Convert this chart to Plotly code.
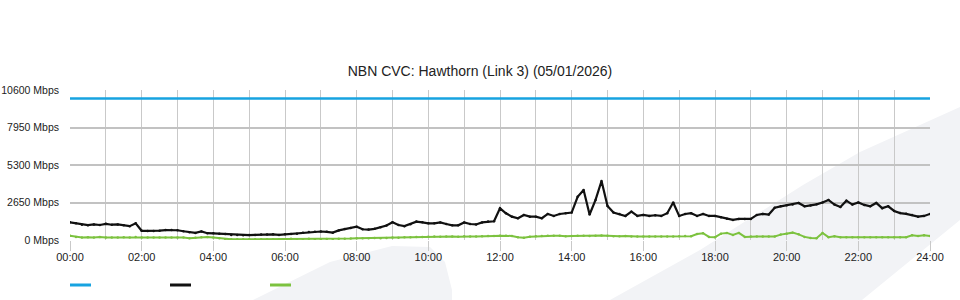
import plotly.graph_objects as go

# ---------------- data ----------------
title_text = "NBN CVC: Hawthorn (Link 3) (05/01/2026)"
step_minutes = 10
n_points = 145
times_h = [i * step_minutes / 60 for i in range(n_points)]

x_tick_vals = [0, 2, 4, 6, 8, 10, 12, 14, 16, 18, 20, 22, 24]
x_tick_text = ["00:00", "02:00", "04:00", "06:00", "08:00", "10:00", "12:00",
               "14:00", "16:00", "18:00", "20:00", "22:00", "24:00"]
y_tick_vals = [0, 2650, 5300, 7950, 10600]
y_tick_text = ["0 Mbps", "2650 Mbps", "5300 Mbps", "7950 Mbps", "10600 Mbps"]

capacity_mbps = 10000

traffic_black = [
    1250, 1180, 1080, 1050, 1100, 1060, 1140, 1080, 1100, 1050, 980, 1180,   # 00:00-01:50
    650, 640, 640, 660, 700, 700, 690, 620, 550, 500, 600, 480,              # 02:00-03:50
    470, 450, 420, 360, 350, 330, 350, 360, 380, 380, 400, 360,              # 04:00-05:50
    400, 420, 450, 520, 560, 580, 600, 580, 520, 680, 780, 850,              # 06:00-07:50
    940, 760, 740, 790, 900, 1020, 1250, 1060, 980, 1120, 1300, 1250,        # 08:00-09:50
    1180, 1180, 1240, 1130, 1040, 1040, 1240, 1130, 1100, 1240, 1300, 1320,  # 10:00-11:50
    2240, 1890, 1650, 1540, 1770, 1650, 1650, 1540, 1840, 1700, 1840, 1890,  # 12:00-13:50
    1940, 3050, 3540, 1800, 2830, 4170, 2400, 1940, 1840, 1700, 2000, 1700,  # 14:00-15:50
    1770, 1700, 1750, 1700, 1890, 2650, 1700, 1840, 1890, 1700, 1840, 1700,  # 16:00-17:50
    1700, 1600, 1500, 1420, 1490, 1490, 1490, 1770, 1840, 1800, 2280, 2380,  # 18:00-19:50
    2450, 2500, 2620, 2380, 2430, 2520, 2650, 2830, 2500, 2330, 2780, 2500,  # 20:00-21:50
    2650, 2480, 2380, 2620, 2250, 2380, 2050, 1900, 1850, 1770, 1650, 1700,  # 22:00-23:50
    1840,                                                                    # 24:00
]

traffic_green = [
    300, 220, 170, 200, 170, 220, 170, 180, 180, 190, 170, 220,   # 00:00-01:50
    170, 170, 170, 170, 180, 170, 170, 170, 130, 160, 200, 210,   # 02:00-03:50
    170, 120, 60, 50, 50, 50, 50, 50, 50, 50, 60, 50,             # 04:00-05:50
    50, 80, 60, 50, 80, 50, 50, 70, 60, 80, 90, 100,              # 06:00-07:50
    120, 130, 130, 140, 130, 150, 180, 160, 200, 190, 220, 210,   # 08:00-09:50
    230, 240, 230, 250, 240, 230, 260, 250, 240, 270, 280, 280,   # 10:00-11:50
    300, 300, 290, 200, 160, 230, 260, 280, 300, 300, 300, 260,   # 12:00-13:50
    290, 300, 300, 290, 300, 310, 300, 270, 260, 280, 240, 240,   # 14:00-15:50
    240, 240, 240, 250, 240, 240, 270, 280, 270, 420, 480, 220,   # 16:00-17:50
    200, 450, 500, 360, 500, 220, 250, 250, 240, 240, 250, 380,   # 18:00-19:50
    450, 520, 400, 220, 150, 130, 500, 200, 260, 200, 200, 200,   # 20:00-21:50
    200, 200, 200, 200, 200, 200, 200, 200, 200, 340, 280, 340,   # 22:00-23:50
    290,                                                          # 24:00
]

# ---------------- styling ----------------
W, H = 960, 300
M_L, M_R, M_T, M_B = 70, 30, 90, 60
BLUE = "#17a3e0"
BLACK = "#111111"
GREEN = "#7cc23f"
GRID = "#c9c9c9"
HGRID = "#c2c2c2"
WM = "rgb(242,243,246)"
TXT = "#222222"
FONT = "Liberation Sans, Arial, sans-serif"

pw = W - M_L - M_R
ph = H - M_T - M_B


def px(xp):
    return (xp - M_L) / pw


def py(yp):
    return (H - M_B - yp) / ph


fig = go.Figure()
fig.add_trace(go.Scatter(x=times_h, y=[capacity_mbps] * len(times_h), mode="lines",
                         line=dict(color=BLUE, width=2.5), showlegend=False, hoverinfo="skip"))
fig.add_trace(go.Scatter(x=times_h, y=traffic_green, mode="lines+markers",
                         line=dict(color=GREEN, width=2), marker=dict(size=2.5, color=GREEN),
                         showlegend=False))
fig.add_trace(go.Scatter(x=times_h, y=traffic_black, mode="lines+markers",
                         line=dict(color=BLACK, width=2.2), marker=dict(size=2.5, color=BLACK),
                         showlegend=False))

shapes = []
# background watermark (decoration)
blob = [(253, 300), (330, 262), (392, 246), (430, 247), (445, 262), (452, 290), (452, 300)]
band = [(610, 300), (700, 250), (803, 185), (860, 152), (960, 107), (960, 220), (862, 300)]
for poly in (blob, band):
    path = "M " + " L ".join(f"{px(a):.5f},{py(b):.5f}" for a, b in poly) + " Z"
    shapes.append(dict(type="path", path=path, xref="paper", yref="paper",
                       fillcolor=WM, line=dict(width=0), layer="below"))
# legend swatches (no labels in the original)
for color, x0 in ((BLUE, 70), (BLACK, 170), (GREEN, 270)):
    shapes.append(dict(type="line", xref="paper", yref="paper",
                       x0=px(x0), x1=px(x0 + 21), y0=py(285), y1=py(285),
                       line=dict(color=color, width=3)))

fig.update_layout(
    width=W, height=H,
    margin=dict(l=M_L, r=M_R, t=M_T, b=M_B, pad=0, autoexpand=False),
    paper_bgcolor="white",
    plot_bgcolor="rgba(0,0,0,0)",
    font=dict(family=FONT, size=11, color=TXT),
    title=dict(text=title_text, x=0.5, xref="container", xanchor="center",
               y=(H - 71) / H, yref="container", yanchor="middle",
               font=dict(family=FONT, size=14, color=TXT)),
    shapes=shapes,
    showlegend=False,
    xaxis=dict(range=[0, 24], tickmode="array", tickvals=x_tick_vals, ticktext=x_tick_text,
               showgrid=True, gridcolor=GRID, gridwidth=1,
               ticks="outside", ticklen=10, tickcolor=GRID, tickwidth=1,
               ticklabelstandoff=-3,
               minor=dict(tickmode="array", tickvals=list(range(25)), showgrid=True,
                          gridcolor=GRID, gridwidth=1),
               zeroline=False, showline=False, fixedrange=True, automargin=False,
               tickfont=dict(family=FONT, size=11, color=TXT)),
    yaxis=dict(range=[0, 10600], tickmode="array", tickvals=y_tick_vals, ticktext=y_tick_text,
               showgrid=True, gridcolor=HGRID, gridwidth=1.5,
               zeroline=False, showline=False, ticks="", ticklabelstandoff=10,
               fixedrange=True, automargin=False,
               tickfont=dict(family=FONT, size=10.5, color=TXT)),
)

fig.write_html("out.html")
